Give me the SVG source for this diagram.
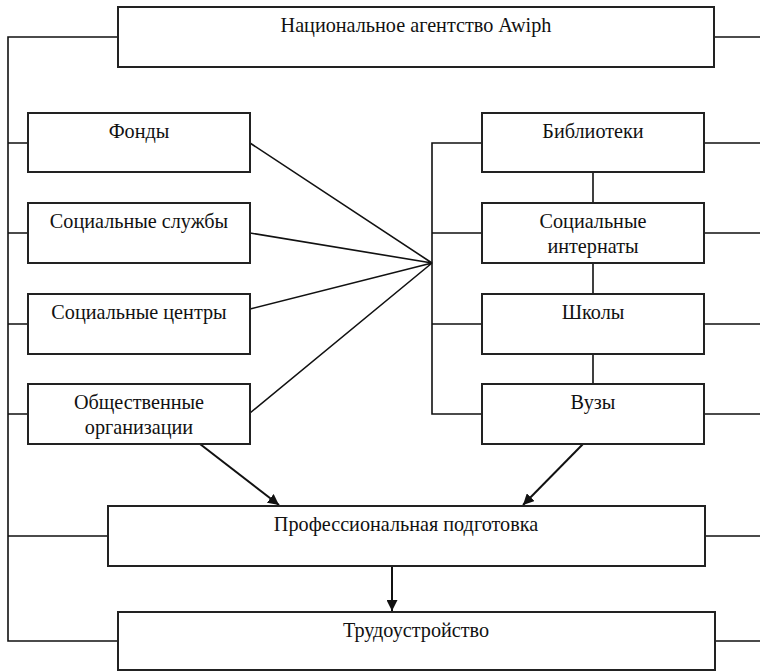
<svg xmlns="http://www.w3.org/2000/svg" width="760" height="672" viewBox="0 0 760 672">
<style>
.box{fill:#fff;stroke:#222;stroke-width:2}
.ln{fill:none;stroke:#111;stroke-width:1.6}
.ar{fill:none;stroke:#111;stroke-width:2}
text{font-family:"Liberation Serif","Times New Roman",serif;font-size:20.2px;fill:#111;text-anchor:middle}
</style>
<defs>
<marker id="ah" viewBox="0 0 10 10" refX="10" refY="5" markerWidth="5.5" markerHeight="5.5" orient="auto" markerUnits="strokeWidth">
<path d="M0,0 L10,5 L0,10 z" fill="#111"/>
</marker>
</defs>
<rect width="760" height="672" fill="#fff"/>
<g id="connectors">
<path class="ln" d="M118,37 H8 V641 H118"/>
<path class="ln" d="M714,37 H760"/>
<path class="ln" d="M8,143 H28 M8,233 H28 M8,324 H28 M8,414 H28 M8,536 H108"/>
<path class="ln" d="M704,143 H760 M704,233 H760 M704,324 H760 M704,414 H760 M705,536 H760 M715,641 H760"/>
<path class="ln" d="M482,143 H432 V414 H482 M432,233 H482 M432,324 H482"/>
<path class="ln" d="M593,172 V203 M593,263 V294 M593,354 V384"/>
<path class="ln" d="M250,143 L432,263 M250,233 L432,263 M250,309 L432,263 M250,413 L432,263"/>
<path class="ar" d="M200,444 L279,505" marker-end="url(#ah)"/>
<path class="ar" d="M583,444 L523,505" marker-end="url(#ah)"/>
<path class="ar" d="M392,566 L392,611" marker-end="url(#ah)"/>
</g>
<g id="agency"><rect class="box" x="118" y="7" width="596" height="60"/><text x="416" y="32">Национальное агентство Awiph</text></g>
<g id="fonds"><rect class="box" x="28" y="113" width="222" height="59"/><text x="139" y="138">Фонды</text></g>
<g id="social-services"><rect class="box" x="28" y="203" width="222" height="60"/><text x="139" y="228">Социальные службы</text></g>
<g id="social-centers"><rect class="box" x="28" y="294" width="222" height="60"/><text x="139" y="319">Социальные центры</text></g>
<g id="public-orgs"><rect class="box" x="28" y="384" width="222" height="60"/><text x="139" y="409">Общественные</text><text x="139" y="434">организации</text></g>
<g id="libraries"><rect class="box" x="482" y="113" width="222" height="59"/><text x="593" y="138">Библиотеки</text></g>
<g id="boarding"><rect class="box" x="482" y="203" width="222" height="60"/><text x="593" y="228">Социальные</text><text x="593" y="253">интернаты</text></g>
<g id="schools"><rect class="box" x="482" y="294" width="222" height="60"/><text x="593" y="319">Школы</text></g>
<g id="universities"><rect class="box" x="482" y="384" width="222" height="60"/><text x="593" y="409">Вузы</text></g>
<g id="training"><rect class="box" x="108" y="506" width="597" height="60"/><text x="406" y="531">Профессиональная подготовка</text></g>
<g id="employment"><rect class="box" x="118" y="612" width="597" height="58"/><text x="416" y="637">Трудоустройство</text></g>
</svg>
